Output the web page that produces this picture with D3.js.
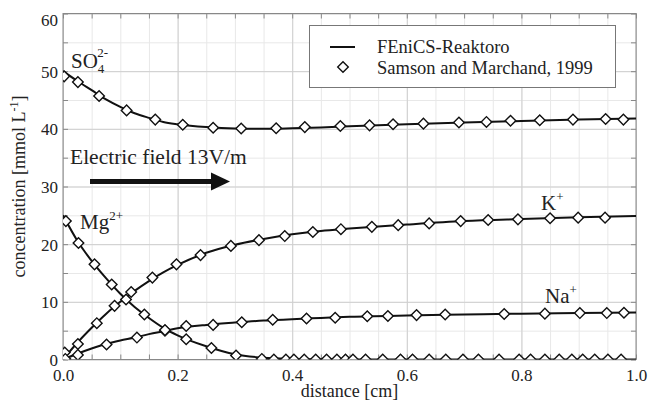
<!DOCTYPE html>
<html>
<head>
<meta charset="utf-8">
<script src="https://cdn.jsdelivr.net/npm/d3@7"></script>
<style>
  body { margin: 0; background: #fff; }
  svg text { font-family: "Liberation Serif", "Times New Roman", serif !important; fill: #222; }
</style>
</head>
<body>
<svg id="chart" width="656" height="405"></svg>
<script>
/* ------------------ data ------------------ */

// model curves (FEniCS-Reaktoro)
const modelX  = [0, 0.025, 0.05, 0.075, 0.1, 0.125, 0.15, 0.175, 0.2, 0.25, 0.3, 0.35, 0.4, 0.45, 0.5, 0.6, 0.7, 0.8, 0.9, 1.0];
const so4Model = [50, 48.3, 46.7, 45.1, 43.8, 42.7, 41.9, 41.2, 40.8, 40.3, 40.05, 40.0, 40.1, 40.25, 40.45, 40.8, 41.1, 41.35, 41.6, 41.8];
const kModel   = [0, 2.9, 5.5, 7.9, 10.0, 11.9, 13.6, 15.1, 16.4, 18.5, 19.9, 20.9, 21.7, 22.3, 22.7, 23.4, 24.0, 24.35, 24.65, 24.9];
const naModel  = [0, 1.0, 1.9, 2.7, 3.3, 3.8, 4.4, 4.9, 5.4, 6.0, 6.4, 6.75, 7.0, 7.2, 7.4, 7.65, 7.8, 7.95, 8.05, 8.15];
const mgModel  = [25, 20.6, 17.1, 14.1, 11.4, 9.1, 7.2, 5.5, 4.2, 2.3, 0.9, 0.3, 0.1, 0.03, 0, 0, 0, 0, 0, 0];

// reference points (Samson and Marchand, 1999)
const so4X = [0.002, 0.026, 0.063, 0.111, 0.161, 0.209, 0.262, 0.311, 0.372, 0.422, 0.484, 0.535, 0.576, 0.629, 0.691, 0.739, 0.781, 0.832, 0.890, 0.947, 0.978];
const so4Y = [49.1, 48.1, 45.7, 43.2, 41.6, 40.7, 40.2, 40.05, 40.1, 40.3, 40.5, 40.6, 40.8, 40.9, 41.1, 41.2, 41.4, 41.5, 41.6, 41.7, 41.6];

const kX = [0.003, 0.026, 0.059, 0.090, 0.119, 0.156, 0.198, 0.240, 0.293, 0.342, 0.387, 0.436, 0.485, 0.539, 0.585, 0.639, 0.694, 0.742, 0.794, 0.850, 0.899, 0.946];
const kY = [1.2, 2.7, 6.3, 9.3, 11.7, 14.2, 16.5, 18.1, 19.7, 20.7, 21.4, 22.1, 22.6, 23.0, 23.3, 23.6, 24.0, 24.2, 24.3, 24.5, 24.6, 24.6];

const naX = [0.004, 0.026, 0.076, 0.129, 0.178, 0.215, 0.262, 0.312, 0.366, 0.425, 0.475, 0.531, 0.567, 0.617, 0.667, 0.770, 0.841, 0.902, 0.949, 0.979];
const naY = [0.1, 0.8, 2.6, 3.8, 5.0, 5.8, 6.0, 6.45, 6.9, 7.1, 7.25, 7.5, 7.55, 7.7, 7.8, 7.9, 7.95, 8.05, 8.05, 8.1];

const mgX = [0.005, 0.027, 0.055, 0.085, 0.110, 0.142, 0.178, 0.215, 0.259, 0.302, 0.347,
             0.368, 0.389, 0.403, 0.421, 0.441, 0.460, 0.478, 0.493, 0.506, 0.528, 0.558, 0.589, 0.610,
             0.639, 0.668, 0.698, 0.725, 0.761, 0.796, 0.816, 0.841, 0.866, 0.888, 0.907, 0.928, 0.951, 0.974];
const mgY = [24.0, 20.2, 16.5, 13.0, 10.4, 7.8, 5.1, 3.5, 2.0, 0.7, 0.1,
             0, 0, 0, 0, 0, 0, 0, 0, 0, 0, 0, 0, 0,
             0, 0, 0, 0, 0, 0, 0, 0, 0, 0, 0, 0, 0, 0];

const xTicks = [0, 0.2, 0.4, 0.6, 0.8, 1.0];
const yTicks = [0, 10, 20, 30, 40, 50, 60];
const xMinor = d3.range(0, 21).map(i => i * 0.05);
const yMinor = d3.range(0, 13).map(i => i * 5);

/* ------------------ layout ------------------ */

const SERIF = "'Liberation Serif', 'Times New Roman', serif";
const PLOT = { left: 63, right: 636, top: 13.5, bottom: 359.5 };
const svg = d3.select("#chart").style("font-family", SERIF);

const x = d3.scaleLinear().domain([0, 1]).range([PLOT.left, PLOT.right]);
const y = d3.scaleLinear().domain([0, 60]).range([PLOT.bottom, PLOT.top]);
const W = PLOT.right - PLOT.left;
const H = PLOT.bottom - PLOT.top;

svg.append("rect").attr("width", 656).attr("height", 405).attr("fill", "#fff");

svg.append("clipPath").attr("id", "clip")
  .append("rect")
  .attr("x", PLOT.left).attr("y", PLOT.top)
  .attr("width", W).attr("height", H);

/* ---- grid ---- */

function grid(axis, tr, major) {
  const g = svg.append("g").attr("transform", tr).call(axis);
  g.select(".domain").remove();
  g.selectAll("text").remove();
  g.selectAll("line").attr("stroke", major ? "#cfcfcf" : "#e8e8e8").attr("stroke-width", 1);
}
grid(d3.axisBottom(x).tickValues(xMinor).tickSize(-H), `translate(0,${PLOT.bottom})`, false);
grid(d3.axisLeft(y).tickValues(yMinor).tickSize(-W), `translate(${PLOT.left},0)`, false);
grid(d3.axisBottom(x).tickValues(xTicks).tickSize(-H), `translate(0,${PLOT.bottom})`, true);
grid(d3.axisLeft(y).tickValues(yTicks).tickSize(-W), `translate(${PLOT.left},0)`, true);

/* ---- inward ticks on all sides ---- */

function frameTicks(axis, tr) {
  const g = svg.append("g").attr("transform", tr).call(axis);
  g.select(".domain").remove();
  g.selectAll("text").remove();
  g.selectAll("line").attr("stroke", "#888");
}
frameTicks(d3.axisBottom(x).tickValues(xMinor).tickSize(-5), `translate(0,${PLOT.bottom})`);
frameTicks(d3.axisTop(x).tickValues(xMinor).tickSize(-5), `translate(0,${PLOT.top})`);
frameTicks(d3.axisLeft(y).tickValues(yMinor).tickSize(-5), `translate(${PLOT.left},0)`);
frameTicks(d3.axisRight(y).tickValues(yMinor).tickSize(-5), `translate(${PLOT.right},0)`);

svg.append("rect")
  .attr("x", PLOT.left).attr("y", PLOT.top)
  .attr("width", W).attr("height", H)
  .attr("fill", "none").attr("stroke", "#888").attr("stroke-width", 1);

/* ---- tick labels ---- */

const xAxis = svg.append("g")
  .attr("transform", `translate(0,${PLOT.bottom})`)
  .call(d3.axisBottom(x).tickValues(xTicks).tickFormat(d3.format(".1f")).tickSize(0).tickPadding(9));
xAxis.select(".domain").remove();
xAxis.selectAll("text").style("font-size", "17px").attr("fill", "#222").style("font-family", SERIF);

const yAxis = svg.append("g")
  .attr("transform", `translate(${PLOT.left},0)`)
  .call(d3.axisLeft(y).tickValues(yTicks).tickFormat(d3.format("d")).tickSize(0).tickPadding(5));
yAxis.select(".domain").remove();
yAxis.selectAll("text").style("font-size", "17px").attr("fill", "#222").style("font-family", SERIF)
  .attr("dy", d => d === 60 ? "0.7em" : "0.36em");

/* ---- axis titles ---- */

svg.append("text")
  .attr("x", (PLOT.left + PLOT.right) / 2).attr("y", 397)
  .attr("text-anchor", "middle").style("font-size", "18px").style("font-family", SERIF)
  .text("distance [cm]");

const yTitle = svg.append("text")
  .attr("transform", `translate(25,${(PLOT.top + PLOT.bottom) / 2}) rotate(-90)`)
  .attr("text-anchor", "middle").style("font-size", "18px").style("font-family", SERIF);
yTitle.append("tspan").text("concentration [mmol L");
yTitle.append("tspan").attr("dy", -7).style("font-size", "12px").text("-1");
yTitle.append("tspan").attr("dy", 7).text("]");

/* ---- curves ---- */

const plot = svg.append("g").attr("clip-path", "url(#clip)");

const line = d3.line().x(d => x(d[0])).y(d => y(d[1])).curve(d3.curveMonotoneX);

[so4Model, kModel, naModel, mgModel].forEach(vals => {
  plot.append("path")
    .datum(modelX.map((v, i) => [v, vals[i]]))
    .attr("d", line)
    .attr("fill", "none")
    .attr("stroke", "#111")
    .attr("stroke-width", 2);
});

/* ---- markers ---- */

const diamond = d3.symbol().type(d3.symbolSquare).size(56);

function markers(xs, ys) {
  plot.append("g")
    .selectAll("path")
    .data(xs.map((v, i) => [v, ys[i]]))
    .join("path")
    .attr("d", diamond)
    .attr("transform", d => `translate(${x(d[0])},${y(d[1])}) rotate(45)`)
    .attr("fill", "#fff")
    .attr("stroke", "#111")
    .attr("stroke-width", 1.4);
}
markers(so4X, so4Y);
markers(kX, kY);
markers(naX, naY);
markers(mgX, mgY);

/* ---- annotations ---- */

function ionLabel(px, py, base, sub, sup) {
  const t = svg.append("text").attr("x", px).attr("y", py)
    .style("font-size", "21px").style("font-family", SERIF);
  t.append("tspan").text(base);
  if (sub && sup) {
    t.append("tspan").attr("dy", 5).style("font-size", "13px").text(sub);
    t.append("tspan").attr("dx", -7).attr("dy", -16).style("font-size", "13px").text(sup);
  } else {
    t.append("tspan").attr("dy", -9).style("font-size", "13px").text(sup);
  }
}
ionLabel(71, 68, "SO", "4", "2-");
ionLabel(80, 229, "Mg", null, "2+");
ionLabel(541, 210, "K", null, "+");
ionLabel(545, 303, "Na", null, "+");

svg.append("text")
  .attr("x", 70).attr("y", 164)
  .style("font-size", "21.5px").style("font-family", SERIF)
  .text("Electric field 13V/m");

svg.append("line")
  .attr("x1", 90).attr("x2", 213).attr("y1", 181.5).attr("y2", 181.5)
  .attr("stroke", "#111").attr("stroke-width", 5);
svg.append("path")
  .attr("d", "M211,172.5 L230,181.5 L211,190.5 Z")
  .attr("fill", "#111");

/* ---- legend ---- */

const legend = svg.append("g");
legend.append("rect")
  .attr("x", 309.5).attr("y", 25.5).attr("width", 306).attr("height", 62)
  .attr("fill", "#fff").attr("stroke", "#777").attr("stroke-width", 1);
legend.append("line")
  .attr("x1", 330).attr("x2", 355).attr("y1", 47).attr("y2", 47)
  .attr("stroke", "#111").attr("stroke-width", 2);
legend.append("path")
  .attr("d", diamond)
  .attr("transform", "translate(343,67) rotate(45)")
  .attr("fill", "#fff").attr("stroke", "#111").attr("stroke-width", 1.4);
legend.append("text").attr("x", 377).attr("y", 53)
  .style("font-size", "18.5px").style("font-family", SERIF).text("FEniCS-Reaktoro");
legend.append("text").attr("x", 377).attr("y", 74)
  .style("font-size", "18.5px").style("font-family", SERIF).text("Samson and Marchand, 1999");
</script>
</body>
</html>
